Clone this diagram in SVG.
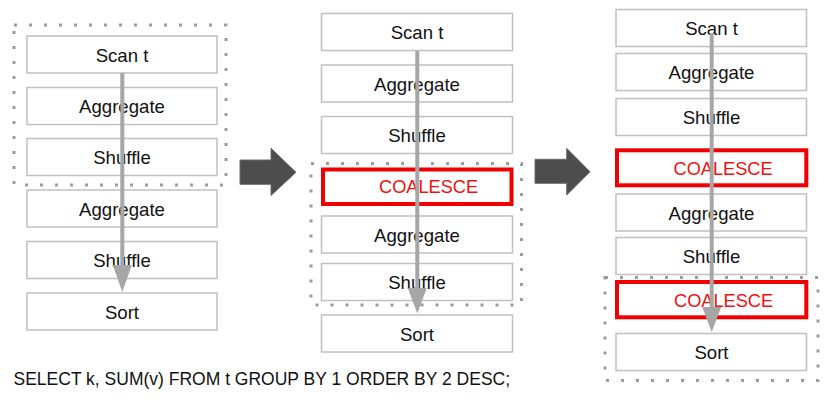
<svg xmlns="http://www.w3.org/2000/svg" width="840" height="404" viewBox="0 0 840 404">
<style>
.box{fill:#fff;stroke:#c0c0c0;stroke-width:1.5}
.red{fill:#fff;stroke:#f00000;stroke-width:4}
.lbl{font-family:"Liberation Sans",Arial,sans-serif;font-size:18.6px;fill:#111;text-anchor:middle}
.rlbl{font-family:"Liberation Sans",Arial,sans-serif;font-size:18.2px;fill:#ee1111}
.dot{fill:none;stroke:#9c9c9c;stroke-width:3;stroke-dasharray:3 12}
.conn{stroke:#a6a6a6;stroke-width:4;fill:none}
.head{fill:#a6a6a6}
.big{fill:#4d4d4d;stroke:#6a6a6a;stroke-width:1}
.sql{font-family:"Liberation Sans",Arial,sans-serif;font-size:17.5px;fill:#111}
</style>
<rect width="840" height="404" fill="#fff"/>

<g id="groups">
<rect class="dot" x="14" y="25" width="212" height="160"/>
<rect class="dot" x="311" y="163.5" width="210.5" height="141.5"/>
<rect class="dot" x="605" y="277.5" width="213" height="103"/>
</g>

<!-- Left column -->
<g id="l-scan"><rect class="box" x="27" y="36" width="190" height="37"/><text class="lbl" x="122" y="61.5">Scan t</text></g>
<g id="l-agg1"><rect class="box" x="27" y="87.5" width="190" height="37"/><text class="lbl" x="122" y="113">Aggregate</text></g>
<g id="l-shuf1"><rect class="box" x="27" y="138.5" width="190" height="37"/><text class="lbl" x="122" y="164">Shuffle</text></g>
<g id="l-agg2"><rect class="box" x="27" y="190" width="190" height="37"/><text class="lbl" x="122" y="215.5">Aggregate</text></g>
<g id="l-shuf2"><rect class="box" x="27" y="241.5" width="190" height="37"/><text class="lbl" x="122" y="267">Shuffle</text></g>
<g id="l-sort"><rect class="box" x="27" y="293" width="190" height="37"/><text class="lbl" x="122" y="318.5">Sort</text></g>

<!-- Middle column -->
<g id="m-scan"><rect class="box" x="321.5" y="13.5" width="191" height="37"/><text class="lbl" x="417" y="39">Scan t</text></g>
<g id="m-agg1"><rect class="box" x="321.5" y="65" width="191" height="37"/><text class="lbl" x="417" y="90.5">Aggregate</text></g>
<g id="m-shuf1"><rect class="box" x="321.5" y="116.5" width="191" height="37"/><text class="lbl" x="417" y="142">Shuffle</text></g>
<g id="m-coal"><rect class="red" x="323" y="169.5" width="188.5" height="34.5"/><text class="rlbl" x="379" y="193">COALESCE</text></g>
<g id="m-agg2"><rect class="box" x="321.5" y="216" width="191" height="37"/><text class="lbl" x="417" y="241.5">Aggregate</text></g>
<g id="m-shuf2"><rect class="box" x="321.5" y="263.5" width="191" height="37"/><text class="lbl" x="417" y="289">Shuffle</text></g>
<g id="m-sort"><rect class="box" x="321.5" y="315" width="191" height="37"/><text class="lbl" x="417" y="340.5">Sort</text></g>

<!-- Right column -->
<g id="r-scan"><rect class="box" x="616" y="9.5" width="190.5" height="37"/><text class="lbl" x="711.5" y="35">Scan t</text></g>
<g id="r-agg1"><rect class="box" x="616" y="53.5" width="190.5" height="37"/><text class="lbl" x="711.5" y="79">Aggregate</text></g>
<g id="r-shuf1"><rect class="box" x="616" y="98.5" width="190.5" height="37"/><text class="lbl" x="711.5" y="124">Shuffle</text></g>
<g id="r-coal1"><rect class="red" x="617" y="150.3" width="189.3" height="35"/><text class="rlbl" x="673.5" y="174.5">COALESCE</text></g>
<g id="r-agg2"><rect class="box" x="616" y="194" width="190.5" height="37"/><text class="lbl" x="711.5" y="219.5">Aggregate</text></g>
<g id="r-shuf2"><rect class="box" x="616" y="237.5" width="190.5" height="37"/><text class="lbl" x="711.5" y="263">Shuffle</text></g>
<g id="r-coal2"><rect class="red" x="617" y="282" width="189.3" height="35.3"/><text class="rlbl" x="674" y="307">COALESCE</text></g>
<g id="r-sort"><rect class="box" x="616" y="333.5" width="190.5" height="37"/><text class="lbl" x="711.5" y="359">Sort</text></g>

<!-- Connectors -->
<g id="connectors">
<line class="conn" x1="122.3" y1="73" x2="122.3" y2="267"/>
<polygon class="head" points="112.8,265 131.8,265 122.3,292"/>
<line class="conn" x1="417.3" y1="51" x2="417.3" y2="290"/>
<polygon class="head" points="407.8,288 426.8,288 417.3,313.5"/>
<line class="conn" x1="711.7" y1="33" x2="711.7" y2="309"/>
<polygon class="head" points="702.2,307 721.2,307 711.7,332"/>
</g>

<g id="transform-arrows">
<polygon class="big" points="240,160 271,160 271,148.3 296,172.3 271,195.5 271,184.3 240,184.3"/>
<polygon class="big" points="535,159.3 566.7,159.3 566.7,148.3 590,171.7 566.7,195 566.7,183.3 535,183.3"/>
</g>

<text class="sql" x="13.5" y="385">SELECT k, SUM(v) FROM t GROUP BY 1 ORDER BY 2 DESC;</text>
</svg>
